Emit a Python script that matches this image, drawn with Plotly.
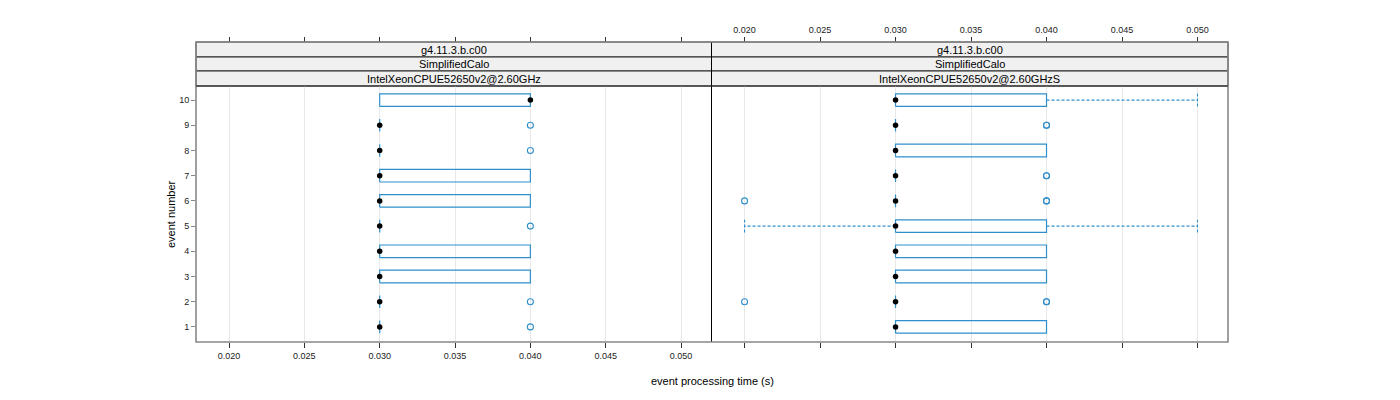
import plotly.graph_objects as go

# event numbers and box statistics (seconds)
events = [1, 2, 3, 4, 5, 6, 7, 8, 9, 10]

panel_names = ["IntelXeonCPUE52650v2@2.60GHz", "IntelXeonCPUE52650v2@2.60GHzS"]
strip_top = "g4.11.3.b.c00"
strip_mid = "SimplifiedCalo"

# panel 1
q1_a = [0.030, 0.030, 0.030, 0.030, 0.030, 0.030, 0.030, 0.030, 0.030, 0.030]
q3_a = [0.030, 0.030, 0.040, 0.040, 0.030, 0.040, 0.040, 0.030, 0.030, 0.040]
med_a = [0.030, 0.030, 0.030, 0.030, 0.030, 0.030, 0.030, 0.030, 0.030, 0.040]
lo_a = [0.030, 0.030, 0.030, 0.030, 0.030, 0.030, 0.030, 0.030, 0.030, 0.030]
hi_a = [0.030, 0.030, 0.040, 0.040, 0.030, 0.040, 0.040, 0.030, 0.030, 0.040]
out_ev_a = [1, 2, 5, 8, 9]
out_val_a = [0.040, 0.040, 0.040, 0.040, 0.040]

# panel 2
q1_b = [0.030, 0.030, 0.030, 0.030, 0.030, 0.030, 0.030, 0.030, 0.030, 0.030]
q3_b = [0.040, 0.030, 0.040, 0.040, 0.040, 0.030, 0.030, 0.040, 0.030, 0.040]
med_b = [0.030, 0.030, 0.030, 0.030, 0.030, 0.030, 0.030, 0.030, 0.030, 0.030]
lo_b = [0.030, 0.030, 0.030, 0.030, 0.020, 0.030, 0.030, 0.030, 0.030, 0.030]
hi_b = [0.040, 0.030, 0.040, 0.040, 0.050, 0.030, 0.030, 0.040, 0.030, 0.050]
out_ev_b = [2, 2, 2, 6, 6, 6, 7, 7, 9, 9]
out_val_b = [0.020, 0.040, 0.040, 0.020, 0.040, 0.040, 0.040, 0.040, 0.040, 0.040]

tick_vals = [0.020, 0.025, 0.030, 0.035, 0.040, 0.045, 0.050]
tick_text = ["0.020", "0.025", "0.030", "0.035", "0.040", "0.045", "0.050"]

BLUE = "#2f8fcc"
FONT = "Liberation Sans, Arial, sans-serif"
H = 0.25  # half box height

X_RANGE = [0.01781, 0.05202]
Y_RANGE = [0.4, 10.56]

# paper positions
XL, XM, XR = 196 / 1400, 711.5 / 1400, 1228 / 1400
YB, YT = 1 - 342 / 400, 1 - 86 / 400
S1, S2, S3 = 1 - 71 / 400, 1 - 57 / 400, 1 - 42 / 400

fig = go.Figure()


def add_panel(xa, ya, q1, q3, med, lo, hi, out_ev, out_val):
    bx, by = [], []
    for e, a, b in zip(events, q1, q3):
        bx += [a, b, b, a, a, None]
        by += [e - H, e - H, e + H, e + H, e - H, None]
    fig.add_scatter(x=bx, y=by, mode="lines", line=dict(color=BLUE, width=1.2),
                    xaxis=xa, yaxis=ya, showlegend=False, hoverinfo="skip")
    wx, wy = [], []
    for e, a, b, l, h in zip(events, q1, q3, lo, hi):
        if l < a:
            wx += [a, l, None, l, l, None]
            wy += [e, e, None, e - H, e + H, None]
        if h > b:
            wx += [b, h, None, h, h, None]
            wy += [e, e, None, e - H, e + H, None]
    if wx:
        fig.add_scatter(x=wx, y=wy, mode="lines",
                        line=dict(color=BLUE, width=1.1, dash="3px,2px"),
                        xaxis=xa, yaxis=ya, showlegend=False, hoverinfo="skip")
    fig.add_scatter(x=out_val, y=out_ev, mode="markers",
                    marker=dict(symbol="circle-open", size=6, color=BLUE,
                                line=dict(width=1.1, color=BLUE)),
                    xaxis=xa, yaxis=ya, showlegend=False)
    fig.add_scatter(x=med, y=events, mode="markers",
                    marker=dict(symbol="circle", size=5.5, color="black"),
                    xaxis=xa, yaxis=ya, showlegend=False)


add_panel("x", "y", q1_a, q3_a, med_a, lo_a, hi_a, out_ev_a, out_val_a)
add_panel("x2", "y2", q1_b, q3_b, med_b, lo_b, hi_b, out_ev_b, out_val_b)

tick_font = dict(family=FONT, size=9, color="#222")
common_x = dict(range=X_RANGE, tickvals=tick_vals, ticktext=tick_text,
                ticks="outside", ticklen=5, tickcolor="#333", tickfont=tick_font,
                showline=False, zeroline=False)

fig.update_layout(
    width=1400, height=400,
    margin=dict(l=0, r=0, t=0, b=0),
    plot_bgcolor="white", paper_bgcolor="white",
    font=dict(family=FONT, size=11, color="black"),
    xaxis=dict(domain=[XL, XM], anchor="y", showgrid=True, gridcolor="#e8e8e8",
               **common_x),
    xaxis2=dict(domain=[XM, XR], anchor="y2", showgrid=True, gridcolor="#e8e8e8",
                showticklabels=False, **common_x),
    # top ticks, drawn above the strips
    xaxis3=dict(domain=[XL, XM], overlaying="x", side="top", anchor="free",
                position=S3, showgrid=False, showticklabels=False, **common_x),
    xaxis4=dict(domain=[XM, XR], overlaying="x2", side="top", anchor="free",
                position=S3, showgrid=False, showticklabels=True, **common_x),
    yaxis=dict(domain=[YB, YT], anchor="x", range=Y_RANGE, tickvals=events,
               ticks="outside", ticklen=4, tickcolor="#888", tickfont=tick_font,
               showgrid=False, zeroline=False, showline=False),
    yaxis2=dict(domain=[YB, YT], anchor="x2", range=Y_RANGE, tickvals=events,
                showticklabels=False, ticks="", showgrid=False, zeroline=False,
                showline=False),
)

# dummy traces so the top axes render
fig.add_scatter(x=[None], y=[None], xaxis="x3", yaxis="y", showlegend=False)
fig.add_scatter(x=[None], y=[None], xaxis="x4", yaxis="y2", showlegend=False)

# strips
for x0, x1, name in [(XL, XM, panel_names[0]), (XM, XR, panel_names[1])]:
    for y0, y1, txt in [(S2, S3, strip_top), (S1, S2, strip_mid), (YT, S1, name)]:
        fig.add_shape(type="rect", xref="paper", yref="paper", x0=x0, x1=x1,
                      y0=y0, y1=y1, fillcolor="#f0f0f0",
                      line=dict(color="#222", width=1), layer="below")
        fig.add_annotation(x=(x0 + x1) / 2, y=(y0 + y1) / 2, xref="paper",
                           yref="paper", text=txt, showarrow=False,
                           xanchor="center", yanchor="middle",
                           font=dict(size=11, family=FONT, color="black"))

# frames
fig.add_shape(type="line", xref="paper", yref="paper", x0=XM, x1=XM, y0=YB, y1=S3,
              line=dict(color="black", width=1))
fig.add_shape(type="rect", xref="paper", yref="paper", x0=XL, x1=XR, y0=YB, y1=S3,
              line=dict(color="#888", width=1.6))
fig.add_shape(type="line", xref="paper", yref="paper", x0=XL, x1=XR, y0=YT, y1=YT,
              line=dict(color="#222", width=1))

fig.add_annotation(x=712 / 1400, y=1 - 381 / 400, xref="paper", yref="paper",
                   text="event processing time (s)", showarrow=False,
                   xanchor="center", yanchor="middle", font=dict(size=11, family=FONT))
fig.add_annotation(x=171 / 1400, y=1 - 214 / 400, xref="paper", yref="paper",
                   text="event number", textangle=-90, showarrow=False,
                   xanchor="center", yanchor="middle", font=dict(size=11, family=FONT))

# the page body has a default margin; remove it so the figure sits at 0,0
fig.write_html("out.html", config={"displayModeBar": False},
               post_script="document.body.style.margin='0';")
